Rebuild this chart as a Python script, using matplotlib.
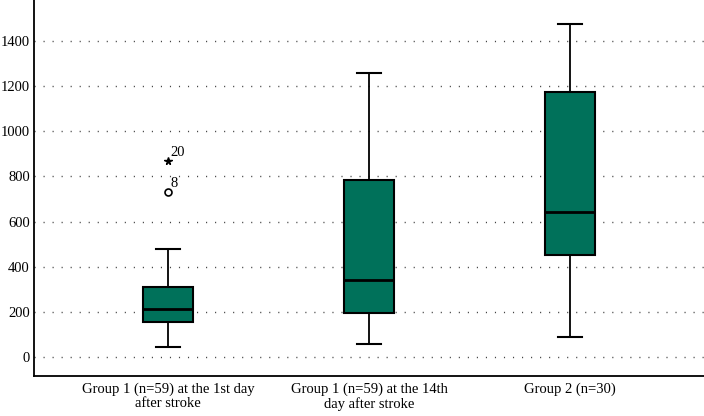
import matplotlib
matplotlib.use("Agg")
import matplotlib.pyplot as plt

plt.rcParams['font.family'] = ['Liberation Serif', 'DejaVu Serif']

categories = ["Group 1 (n=59) at the 1st day\nafter stroke",
              "Group 1 (n=59) at the 14th\nday after stroke",
              "Group 2 (n=30)"]
whislo = [46, 58, 90]
q1 = [155, 194, 452]
med = [214, 341, 644]
q3 = [312, 784, 1173]
whishi = [478, 1257, 1475]
outlier_circle = [(733, "8")]
outlier_star = [(870, "20")]
yticks = [0, 200, 400, 600, 800, 1000, 1200, 1400]

fig = plt.figure(figsize=(7.04, 4.16), dpi=100)
ax = fig.add_axes([34/704, 40/416, 670/704, 376/416])

stats = []
for i in range(3):
    stats.append(dict(whislo=whislo[i], q1=q1[i], med=med[i], q3=q3[i],
                      whishi=whishi[i], fliers=[], label=categories[i]))

fill = "#00715A"
ax.bxp(stats, positions=[1, 2, 3], widths=0.25, patch_artist=True,
       showfliers=False,
       boxprops=dict(facecolor=fill, edgecolor="black", linewidth=1.5),
       medianprops=dict(color="black", linewidth=2),
       whiskerprops=dict(color="black", linewidth=1.3),
       capprops=dict(color="black", linewidth=1.5),
       capwidths=0.12, zorder=3)

for v, lab in outlier_circle:
    ax.plot([1], [v], marker='o', markersize=5, markerfacecolor='white',
            markeredgecolor='black', markeredgewidth=1.2, linestyle='none', zorder=4)
    ax.annotate(lab, (1, v), xytext=(1.5, 1), textcoords='offset points',
                fontsize=10.5, ha='left', va='bottom')
for v, lab in outlier_star:
    ax.plot([1], [v], marker='*', markersize=5.5, color='black', linestyle='none', zorder=4)
    ax.annotate(lab, (1, v), xytext=(2, 1.5), textcoords='offset points',
                fontsize=10.5, ha='left', va='bottom')

ax.set_xlim(1/3, 3 + 2/3)
ax.set_ylim(-84, 1582)
ax.set_yticks(yticks)
ax.set_yticklabels([str(t) for t in yticks], fontsize=10.5)
ax.set_xticks([1, 2, 3])
ax.set_xticklabels(categories, fontsize=10.5, linespacing=1.1)
ax.tick_params(axis='x', length=0, pad=5)
ax.tick_params(axis='y', length=0, pad=3)
for t in yticks:
    ax.axhline(t, color="#444444", linewidth=1, linestyle=(0, (0.8, 5.7)), zorder=1)

ax.spines['top'].set_visible(False)
ax.spines['right'].set_visible(False)
ax.spines['left'].set_linewidth(1.3)
ax.spines['bottom'].set_linewidth(1.3)

fig.savefig("out.png", dpi=100)
